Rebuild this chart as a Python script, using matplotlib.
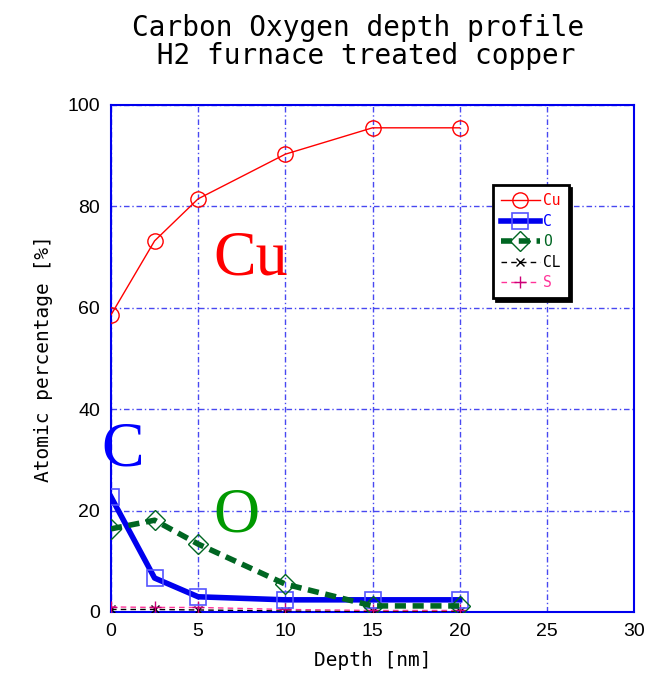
import matplotlib
matplotlib.use("Agg")
import matplotlib.pyplot as plt

depth = [0, 2.5, 5, 10, 15, 20]
cu = [58.6, 73.2, 81.5, 90.3, 95.5, 95.5]
c = [22.7, 6.7, 3.0, 2.4, 2.4, 2.4]
o = [16.4, 18.1, 13.4, 5.5, 1.2, 1.2]
cl = [0.5, 0.5, 0.4, 0.2, 0.1, 0.1]
s = [1.0, 0.9, 0.9, 0.5, 0.3, 0.3]

title = "Carbon Oxygen depth profile\n H2 furnace treated copper"
xlabel = "Depth [nm]"
ylabel = "Atomic percentage [%]"
xticks = [0, 5, 10, 15, 20, 25, 30]
yticks = [0, 20, 40, 60, 80, 100]

mono = "DejaVu Sans Mono"

fig = plt.figure(figsize=(6.57, 6.78), dpi=100)
ax = fig.add_axes([111/657, 66/678, 523/657, 507/678])

ax.plot(depth, cu, color="#ff0000", lw=1.0, marker="o", ms=11, mfc="none",
        mec="#ff0000", mew=1.0, label="Cu", zorder=5)
ax.plot(depth, c, color="#0000ee", lw=4.0, marker="s", ms=12, mfc="none",
        mec="#5555ff", mew=1.2, label="C", zorder=4)
ax.plot(depth, o, color="#006622", lw=4.0, ls=(0, (2.0, 1.2)), marker="D", ms=10,
        mfc="none", mec="#006622", mew=1.0, label="O", zorder=4)
ax.plot(depth, cl, color="black", lw=1.0, ls=(0, (4, 3)), marker="x", ms=6,
        mec="black", label="CL", zorder=3)
ax.plot(depth, s, color="#ff3399", lw=1.0, ls=(0, (4, 3)), marker="+", ms=8,
        mec="#cc0077", label="S", zorder=3)

ax.set_xlim(0, 30)
ax.set_ylim(0, 100)
ax.set_xticks(xticks)
ax.set_yticks(yticks)
ax.tick_params(length=0, labelsize=14, pad=8)
for lab in ax.get_xticklabels() + ax.get_yticklabels():
    lab.set_family("Liberation Sans")

ax.grid(True, color="#1a1aee", ls=(0, (4, 2, 1, 2)), lw=1.0, alpha=0.8)
for sp in ax.spines.values():
    sp.set_color("#0000ee")
    sp.set_linewidth(1.5)

ax.set_xlabel(xlabel, family=mono, fontsize=14, labelpad=8)
ax.set_ylabel(ylabel, family=mono, fontsize=14, labelpad=10)

fig.text(0.545, 0.979, title, family=mono, fontsize=20, ha="center", va="top",
         linespacing=1.0)

ax.text(8.03, 69.5, "Cu", color="#ff0000", family="Liberation Serif", fontsize=46,
        ha="center", va="center")
ax.text(0.69, 31.8, "C", color="#0000ff", family="Liberation Serif", fontsize=46,
        ha="center", va="center")
ax.text(7.2, 18.9, "O", color="#009900", family="Liberation Serif", fontsize=46,
        ha="center", va="center")

leg = ax.legend(loc="upper left", bbox_to_anchor=(0.73, 0.842), borderaxespad=0,
                frameon=True, fancybox=False, shadow={"color": "black", "alpha": 1.0},
                handlelength=2.7, handletextpad=0.2, labelspacing=0.38,
                borderpad=0.55, prop={"family": mono, "size": 10.5})
leg.get_frame().set_edgecolor("black")
leg.get_frame().set_linewidth(2.0)
leg.get_frame().set_alpha(1.0)
for txt, col in zip(leg.get_texts(), ["#ff0000", "#0000ff", "#006622", "black", "#ff3399"]):
    txt.set_color(col)

fig.savefig("out.png", dpi=100)
